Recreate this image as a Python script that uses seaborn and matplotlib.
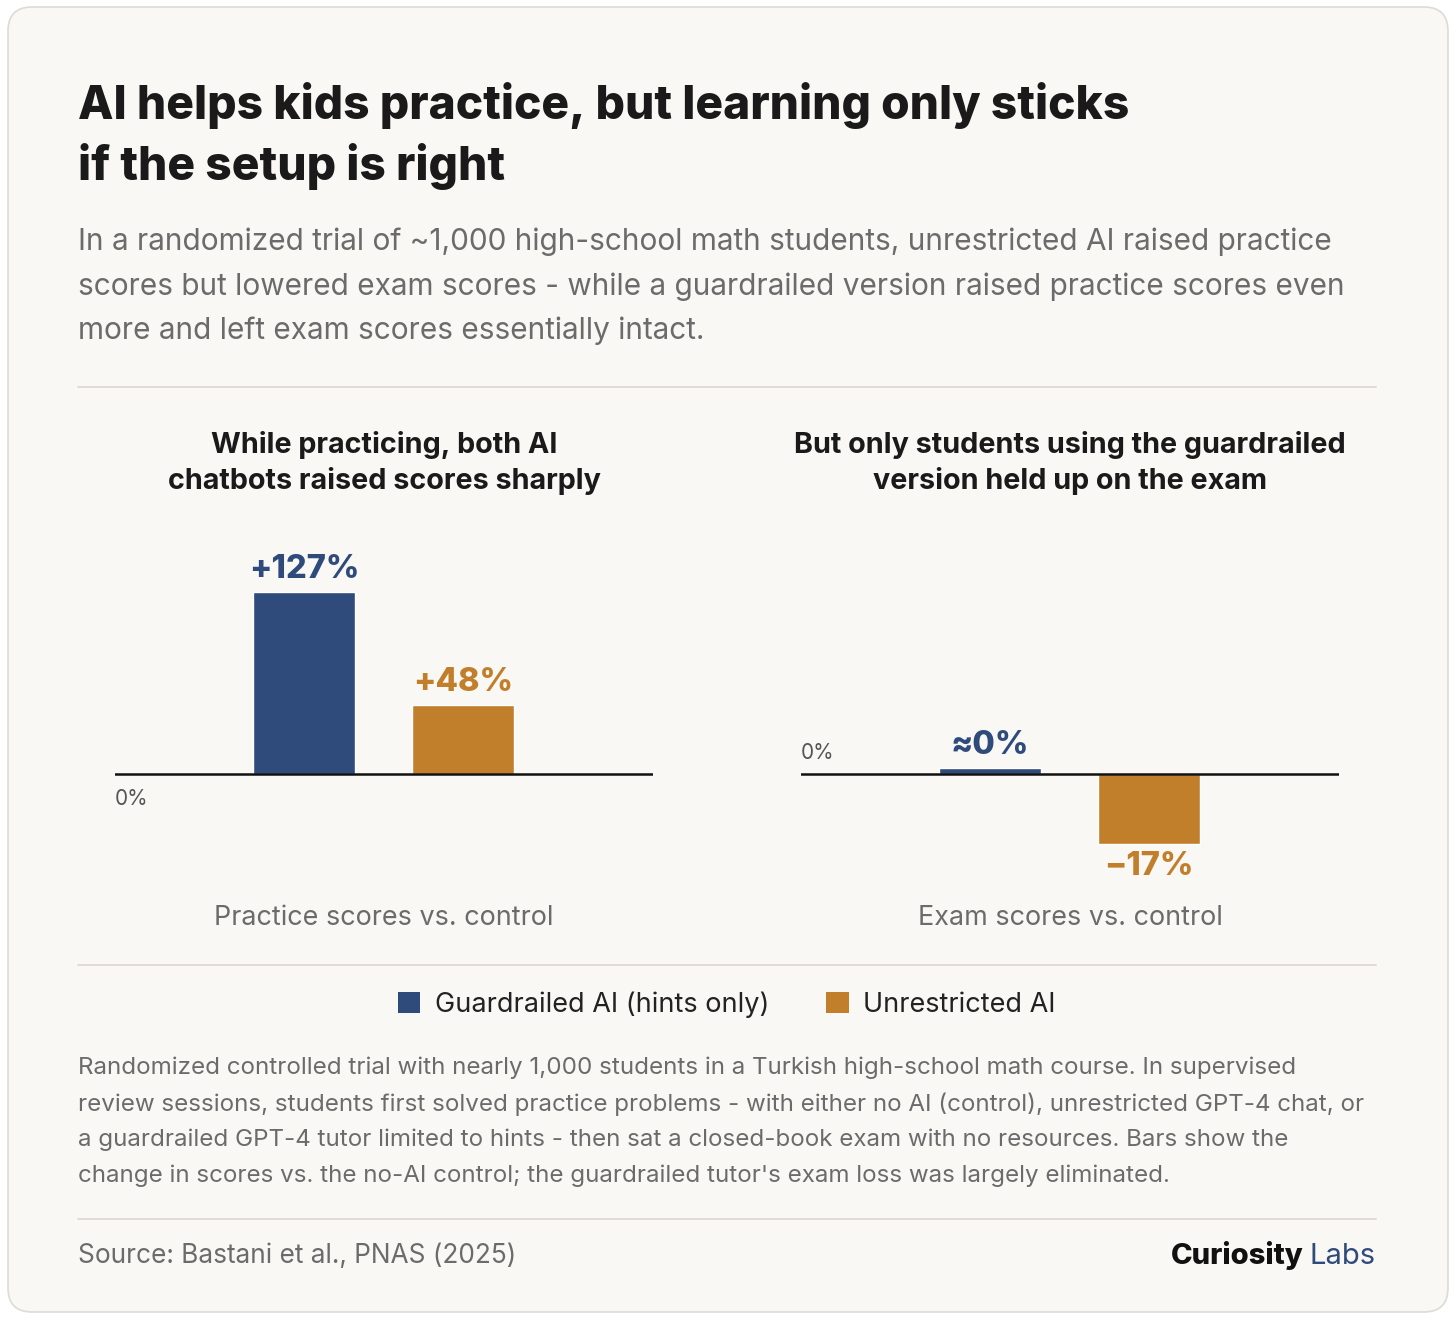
import pandas as pd
import numpy as np
import matplotlib.pyplot as plt
import seaborn as sns
from matplotlib.patches import FancyBboxPatch, Patch

# data
groups = ["Guardrailed AI (hints only)", "Unrestricted AI"]
colors = ["#2F4B7B", "#C17F2C"]
practice_change = [127, 48]
exam_change = [1.5, -17]          # guardrailed exam effect is ~0, drawn as a sliver
practice_labels = ["+127%", "+48%"]
exam_labels = ["\u22480%", "\u221217%"]
panel_titles = ["While practicing, both AI\nchatbots raised scores sharply",
                "But only students using the guardrailed\nversion held up on the exam"]
measures = ["Practice scores vs. control", "Exam scores vs. control"]

title = "AI helps kids practice, but learning only sticks\nif the setup is right"
subtitle = ("In a randomized trial of ~1,000 high-school math students, unrestricted AI raised practice\n"
            "scores but lowered exam scores - while a guardrailed version raised practice scores even\n"
            "more and left exam scores essentially intact.")
footnote = ("Randomized controlled trial with nearly 1,000 students in a Turkish high-school math course. In supervised\n"
            "review sessions, students first solved practice problems - with either no AI (control), unrestricted GPT-4 chat, or\n"
            "a guardrailed GPT-4 tutor limited to hints - then sat a closed-book exam with no resources. Bars show the\n"
            "change in scores vs. the no-AI control; the guardrailed tutor's exam loss was largely eliminated.")
source = "Source: Bastani et al., PNAS (2025)"

df = pd.DataFrame({
    "group": groups * 2,
    "change": practice_change + exam_change,
    "measure": [measures[0]] * 2 + [measures[1]] * 2,
})

sns.set_theme(style="white")
plt.rcParams["font.family"] = ["Inter", "DejaVu Sans"]

W, H = 1456, 1322
BG = "#FAF8F4"
GREY = "#6B6B6B"
INK = "#1A1A1A"

fig = plt.figure(figsize=(W / 100, H / 100), dpi=100, facecolor="white")
bg = fig.add_axes([0, 0, 1, 1], zorder=0)
bg.set_xlim(0, W)
bg.set_ylim(H, 0)
bg.axis("off")

card = FancyBboxPatch((8, 7), 1440, 1305, boxstyle="round,pad=0,rounding_size=24",
                      facecolor=BG, edgecolor="#DEDBD5", linewidth=1.2)
bg.add_patch(card)

bg.text(78, 136, title, fontsize=33.2, fontweight=800, color=INK,
        va="center", ha="left", linespacing=1.40)
bg.text(78, 286.5, subtitle, fontsize=21.45, color=GREY, va="center", ha="left",
        linespacing=1.71)

for y in [387, 965, 1219]:
    bg.plot([78, 1376], [y, y], color="#DDD9D2", lw=1.3)

centers = [384, 1070]
for cx, t, m in zip(centers, panel_titles, measures):
    bg.text(cx, 463, t, fontsize=20.7, fontweight="bold", color=INK,
            ha="center", va="center", linespacing=1.4)
    bg.text(cx, 918, m, fontsize=19.4, color=GREY, ha="center", va="center")

bg.text(78, 1121.5, footnote, fontsize=17.4, color=GREY, ha="left", va="center",
        linespacing=1.73)
bg.text(78, 1256, source, fontsize=18.9, color=GREY, ha="left", va="center")
labs = bg.text(1376, 1256, "Labs", fontsize=21, color="#2F4B7B",
               ha="right", va="center")
bg.annotate("Curiosity", xy=(0, 0), xycoords=labs, xytext=(-4.5, 0),
            textcoords="offset points", fontsize=21, fontweight=800,
            color="#111111", ha="right", va="bottom")

handles = [Patch(facecolor=c, edgecolor="none", label=g) for g, c in zip(groups, colors)]
fig.legend(handles=handles, loc="center", bbox_to_anchor=(727 / W, 1 - 1005 / H),
           ncol=2, frameon=False, fontsize=19.5, handlelength=0.82, handleheight=0.82,
           handletextpad=0.55, columnspacing=2.1, labelcolor="#222222")

# chart panels
panels = [
    (115, (-67.0, 163.3), practice_labels, "below"),
    (801, (-23.3, 56.8), exam_labels, "above"),
]
for (left, ylim, labels, zpos), m in zip(panels, measures):
    ax = fig.add_axes([left / W, 1 - 870 / H, 538 / W, 330 / H], zorder=1)
    ax.patch.set_alpha(0)
    sub = df[df["measure"] == m]
    sns.barplot(data=sub, x="group", y="change", hue="group", palette=colors,
                order=groups, hue_order=groups, width=0.64, legend=False,
                saturation=1, ax=ax)
    ax.set_xlim(-1.185, 2.19)
    ax.set_ylim(*ylim)
    ax.axhline(0, color="#111111", lw=1.8, zorder=3)
    for spine in ax.spines.values():
        spine.set_visible(False)
    ax.set_xticks([])
    ax.set_yticks([])
    ax.set_xlabel("")
    ax.set_ylabel("")
    for cont, lab, c in zip(ax.containers, labels, colors):
        ax.bar_label(cont, labels=[lab], padding=5, fontsize=23.5, fontweight=800,
                     color=c, family=["Inter", "DejaVu Sans"])
    if zpos == "below":
        ax.annotate("0%", xy=(0, 0), xycoords=ax.get_yaxis_transform(),
                    xytext=(0, -11), textcoords="offset points", fontsize=15,
                    color="#555555", ha="left", va="top")
    else:
        ax.annotate("0%", xy=(0, 0), xycoords=ax.get_yaxis_transform(),
                    xytext=(0, 8), textcoords="offset points", fontsize=15,
                    color="#555555", ha="left", va="bottom")

fig.savefig("out.png", dpi=100, facecolor="white")
